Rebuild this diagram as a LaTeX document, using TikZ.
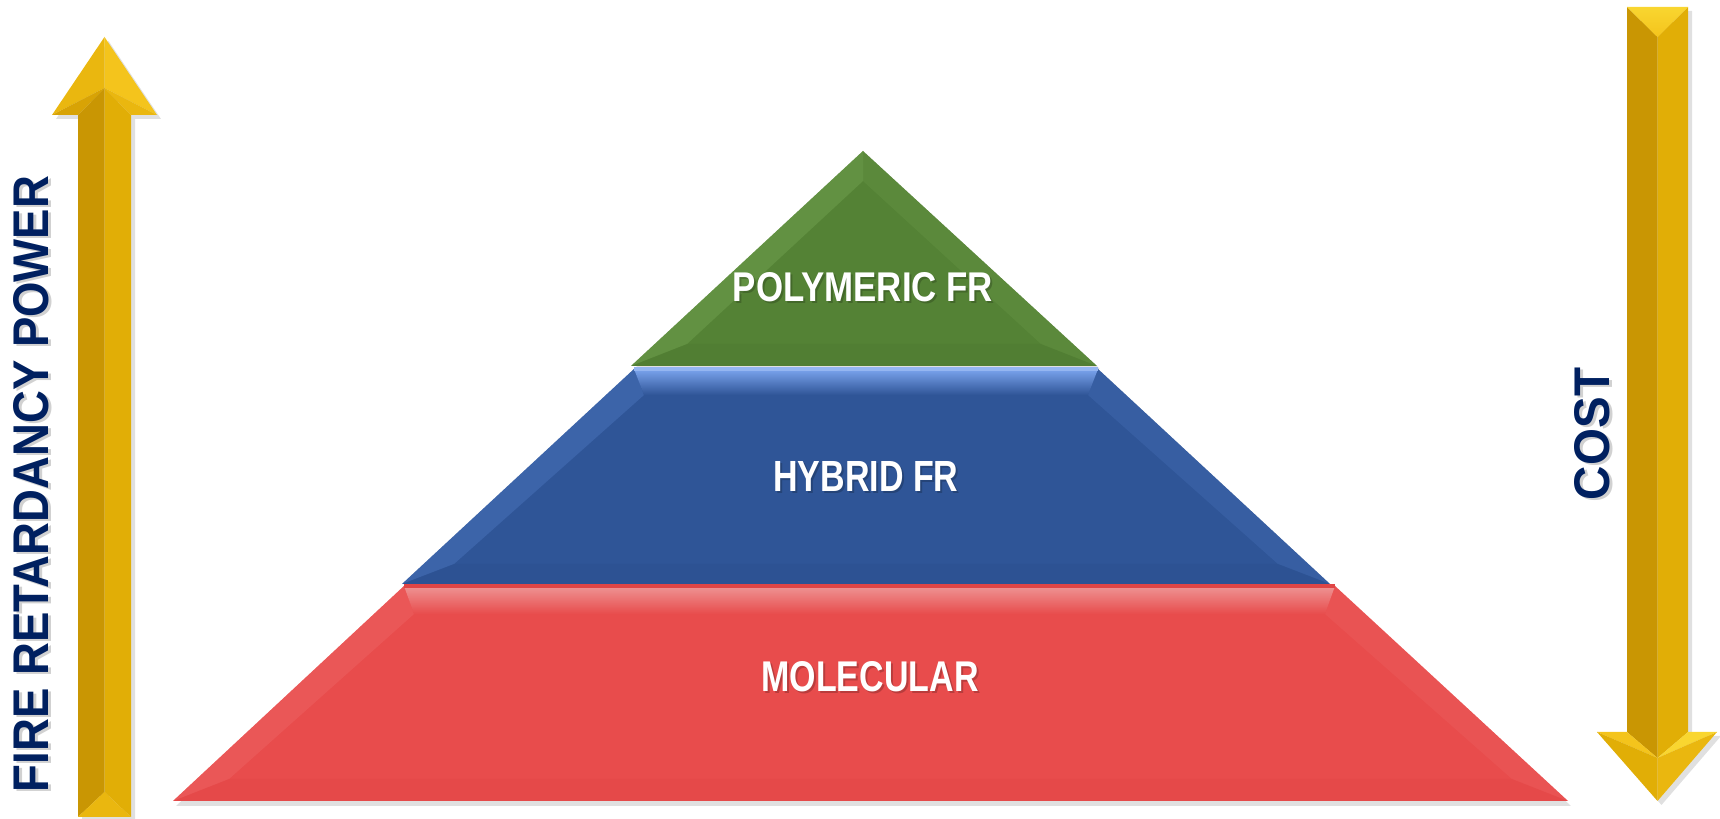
\documentclass[tikz,border=0pt]{standalone}
\usepackage{fontspec}
\setmainfont{Liberation Sans}
\usepackage{graphicx}
\usetikzlibrary{calc}
\definecolor{navy}{HTML}{002060}
\definecolor{gmain}{HTML}{548235}
\definecolor{glight}{HTML}{78A956}
\definecolor{gdark}{HTML}{4C7830}
\definecolor{bmain}{HTML}{2F5597}
\definecolor{blight}{HTML}{7BA4EE}
\definecolor{bedge}{HTML}{5581CC}
\definecolor{bdark}{HTML}{2A4F8E}
\definecolor{rmain}{HTML}{E84C4C}
\definecolor{rlight}{HTML}{EE9494}
\definecolor{redge}{HTML}{F06C6C}
\definecolor{rdark}{HTML}{E04545}
\definecolor{au1}{HTML}{C99603}
\definecolor{au2}{HTML}{E1AE06}
\definecolor{au3}{HTML}{EAB70F}
\definecolor{au4}{HTML}{F4C41C}
\definecolor{au5}{HTML}{F9D630}
\definecolor{au6}{HTML}{D8A305}
\begin{document}
\begin{tikzpicture}[x=0.01cm,y=-0.01cm,
  lbl/.style={inner sep=0pt, text=white, font=\bfseries},
  lblshadow/.style={inner sep=0pt, text=black, opacity=0.2, font=\bfseries},
  axislbl/.style={inner sep=0pt, text=navy, font=\bfseries, rotate=90},
  axisshadow/.style={inner sep=0pt, text=black, opacity=0.18, font=\bfseries, rotate=90},
  shadowfill/.style={fill=black, opacity=0.12},
]
\useasboundingbox (0,0) rectangle (1720,819);

% ---------- pyramid coordinates ----------
\coordinate (gA) at (863,151);
\coordinate (gL) at (631,366);
\coordinate (gR) at (1097,366);
\coordinate (gAi) at ($(gA)+(0,30)$);
\coordinate (gLi) at ($(gL)+(56,-22)$);
\coordinate (gRi) at ($(gR)+(-56,-22)$);

\coordinate (bTL) at (634,369);
\coordinate (bTR) at (1098,369);
\coordinate (bBL) at (402,584);
\coordinate (bBR) at (1330,584);
\coordinate (bTLi) at ($(bTL)+(10,26)$);
\coordinate (bTRi) at ($(bTR)+(-10,26)$);
\coordinate (bBLi) at ($(bBL)+(52,-20)$);
\coordinate (bBRi) at ($(bBR)+(-52,-20)$);

\coordinate (rTL) at (404,586);
\coordinate (rTR) at (1335,586);
\coordinate (rBL) at (173,801);
\coordinate (rBR) at (1568,801);
\coordinate (rTLi) at ($(rTL)+(10,28)$);
\coordinate (rTRi) at ($(rTR)+(-10,28)$);
\coordinate (rBLi) at ($(rBL)+(56,-22)$);
\coordinate (rBRi) at ($(rBR)+(-56,-22)$);

% ---------- shadows ----------
\fill[shadowfill] ($(rTL)+(3,4)$) -- ($(rTR)+(3,4)$) -- ($(rBR)+(3,5)$) -- ($(rBL)+(3,5)$) -- cycle;
\fill[shadowfill] ($(bTL)+(3,3)$) -- ($(bTR)+(3,3)$) -- ($(bBR)+(3,3)$) -- ($(bBL)+(3,3)$) -- cycle;
\fill[shadowfill] ($(gA)+(3,3)$) -- ($(gR)+(3,3)$) -- ($(gL)+(3,3)$) -- cycle;

% ---------- red layer ----------
\fill[rmain] (rTL) -- (rTR) -- (rBR) -- (rBL) -- cycle;
\fill[redge, opacity=0.35] (rTL) -- (rTLi) -- (rBLi) -- (rBL) -- cycle;
\fill[redge, opacity=0.22] (rTR) -- (rTRi) -- (rBRi) -- (rBR) -- cycle;
\fill[rdark, opacity=0.3] (rBL) -- (rBLi) -- (rBRi) -- (rBR) -- cycle;
\shade[top color=rlight, bottom color=rmain] (rTL) -- (rTR) -- (rTRi) -- (rTLi) -- cycle;
\draw[rdark, line width=1.2] (rTL) -- (rTR);

% ---------- blue layer ----------
\fill[bmain] (bTL) -- (bTR) -- (bBR) -- (bBL) -- cycle;
\fill[bedge, opacity=0.35] (bTL) -- (bTLi) -- (bBLi) -- (bBL) -- cycle;
\fill[bedge, opacity=0.22] (bTR) -- (bTRi) -- (bBRi) -- (bBR) -- cycle;
\fill[bdark, opacity=0.4] (bBL) -- (bBLi) -- (bBRi) -- (bBR) -- cycle;
\shade[top color=blight, bottom color=bmain] (bTL) -- (bTR) -- (bTRi) -- (bTLi) -- cycle;
\draw[blight!80!white, line width=1.2] (bTL) -- (bTR);

% ---------- green layer ----------
\fill[gmain] (gA) -- (gR) -- (gL) -- cycle;
\fill[glight, opacity=0.4] (gA) -- (gAi) -- (gLi) -- (gL) -- cycle;
\fill[glight, opacity=0.2] (gA) -- (gAi) -- (gRi) -- (gR) -- cycle;
\fill[gdark, opacity=0.3] (gL) -- (gLi) -- (gRi) -- (gR) -- cycle;

% ---------- pyramid labels ----------
\node[lblshadow] (polyS) at (865,289) {\resizebox{2.60cm}{0.29cm}{POLYMERIC FR}};
\node[lbl] (poly) at (863,287) {\resizebox{2.60cm}{0.29cm}{POLYMERIC FR}};
\node[lblshadow] (hybS) at (868,478) {\resizebox{1.85cm}{0.30cm}{HYBRID FR}};
\node[lbl] (hyb) at (866,476) {\resizebox{1.85cm}{0.30cm}{HYBRID FR}};
\node[lblshadow] (molS) at (872,679) {\resizebox{2.17cm}{0.30cm}{MOLECULAR}};
\node[lbl] (mol) at (870,677) {\resizebox{2.17cm}{0.30cm}{MOLECULAR}};

% ---------- left arrow (up) ----------
\coordinate (la) at (104.5,37);
\coordinate (lhl) at (52,115);
\coordinate (lhr) at (157,115);
\coordinate (lsl) at (78,115);
\coordinate (lsr) at (131,115);
\coordinate (lm) at (104.5,88);
\coordinate (lbl) at (78,817);
\coordinate (lbr) at (131,817);
\coordinate (lbm) at (104.5,792);
\fill[shadowfill] ($(la)+(4,4)$) -- ($(lhr)+(4,4)$) -- ($(lsr)+(4,4)$) -- ($(lbr)+(4,4)$) -- ($(lbl)+(4,4)$) -- ($(lsl)+(4,4)$) -- ($(lhl)+(4,4)$) -- cycle;
\fill[au1] (lsl) -- (lm) -- (lbm) -- (lbl) -- cycle;
\fill[au2] (lm) -- (lsr) -- (lbr) -- (lbm) -- cycle;
\fill[au3] (lbl) -- (lbm) -- (lbr) -- cycle;
\fill[au3] (lhl) -- (la) -- (lm) -- cycle;
\fill[au4] (la) -- (lhr) -- (lm) -- cycle;
\fill[au6] (lhl) -- (lm) -- (lsl) -- cycle;
\fill[au3] (lhr) -- (lm) -- (lsr) -- cycle;

% ---------- right arrow (down) ----------
\coordinate (ra) at (1657.5,801);
\coordinate (rhl) at (1597,732);
\coordinate (rhr) at (1717,732);
\coordinate (rsl) at (1627,732);
\coordinate (rsr) at (1688,732);
\coordinate (rm) at (1657.5,758);
\coordinate (rtl) at (1627,7);
\coordinate (rtr) at (1688,7);
\coordinate (rtm) at (1657.5,37);
\fill[shadowfill] ($(rtl)+(4,4)$) -- ($(rtr)+(4,4)$) -- ($(rsr)+(4,4)$) -- ($(rhr)+(4,4)$) -- ($(ra)+(4,4)$) -- ($(rhl)+(4,4)$) -- ($(rsl)+(4,4)$) -- cycle;
\fill[au1] (rtl) -- (rtm) -- (rm) -- (rsl) -- cycle;
\fill[au2] (rtm) -- (rtr) -- (rsr) -- (rm) -- cycle;
\shade[top color=au5, bottom color=au4] (rtl) -- (rtr) -- (rtm) -- cycle;
\fill[au4] (rhl) -- (rsl) -- (rm) -- cycle;
\fill[au5] (rsr) -- (rhr) -- (rm) -- cycle;
\fill[au2] (rhl) -- (rm) -- (ra) -- cycle;
\fill[au3] (rhr) -- (rm) -- (ra) -- cycle;

% ---------- axis labels ----------
\node[axisshadow] (fireS) at (34.5,486) {\resizebox{6.16cm}{0.35cm}{FIRE RETARDANCY POWER}};
\node[axislbl] (fire) at (31.5,484) {\resizebox{6.16cm}{0.35cm}{FIRE RETARDANCY POWER}};
\node[axisshadow] (costS) at (1595,436) {\resizebox{1.32cm}{0.35cm}{COST}};
\node[axislbl] (cost) at (1592,434) {\resizebox{1.32cm}{0.35cm}{COST}};
\end{tikzpicture}
\end{document}
